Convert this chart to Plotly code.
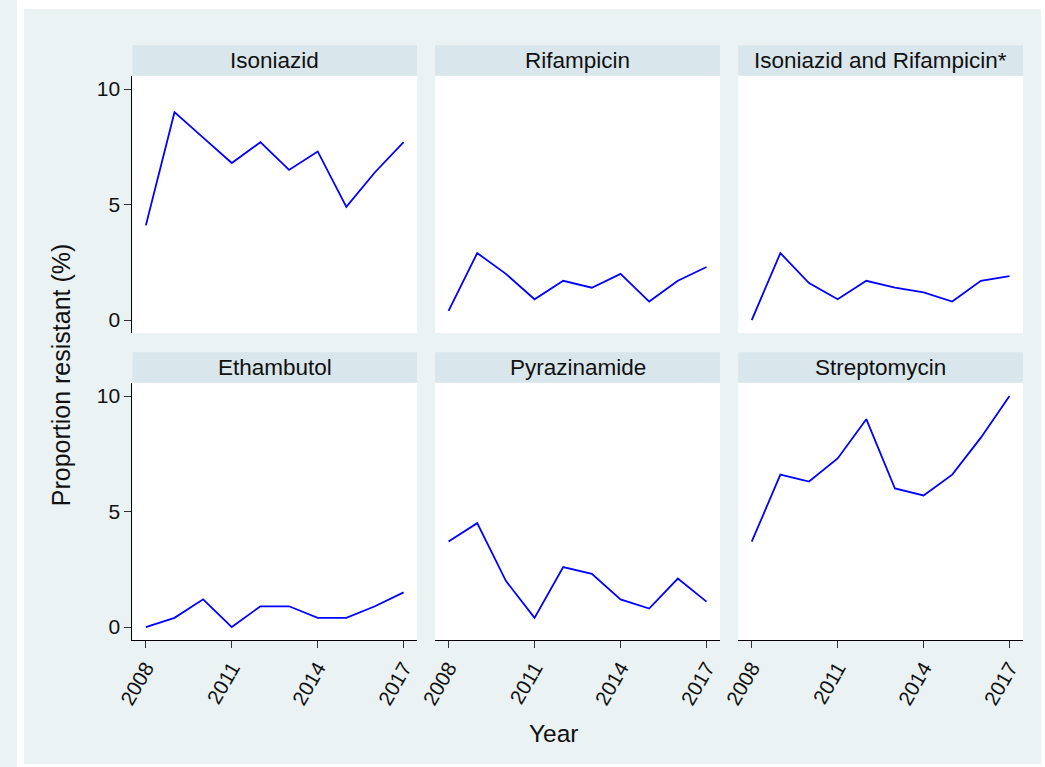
import plotly.graph_objects as go

years = [2008, 2009, 2010, 2011, 2012, 2013, 2014, 2015, 2016, 2017]
panel_titles = ["Isoniazid", "Rifampicin", "Isoniazid and Rifampicin*",
                "Ethambutol", "Pyrazinamide", "Streptomycin"]
isoniazid = [4.1, 9.0, 7.9, 6.8, 7.7, 6.5, 7.3, 4.9, 6.4, 7.7]
rifampicin = [0.4, 2.9, 2.0, 0.9, 1.7, 1.4, 2.0, 0.8, 1.7, 2.3]
inh_rif = [0.0, 2.9, 1.6, 0.9, 1.7, 1.4, 1.2, 0.8, 1.7, 1.9]
ethambutol = [0.0, 0.4, 1.2, 0.0, 0.9, 0.9, 0.4, 0.4, 0.9, 1.5]
pyrazinamide = [3.7, 4.5, 2.0, 0.4, 2.6, 2.3, 1.2, 0.8, 2.1, 1.1]
streptomycin = [3.7, 6.6, 6.3, 7.3, 9.0, 6.0, 5.7, 6.6, 8.2, 10.0]
series = [isoniazid, rifampicin, inh_rif, ethambutol, pyrazinamide, streptomycin]
x_ticks = [2008, 2011, 2014, 2017]
y_ticks = [0, 5, 10]

W, H = 1045, 767
OUTER = "#EAF2F3"
STRIP = "#D9E6EB"
FONT = "Liberation Sans, Arial, sans-serif"

col_x = [(117.3, 406.7), (425.0, 714.6), (733.2, 1022.6)]
row_y = [(75.7, 333.0), (382.7, 640.0)]   # plot area top/bottom in px
strip_h = 30.5

def px(x):
    return x / W

def py(y):
    return 1 - y / H

fig = go.Figure()
shapes = []
# white outer border around the light background
for (a, b, c_, d) in [(0, W, 0, 9), (0, W, 764, H), (0, 7, 0, H), (1041, W, 0, H)]:
    shapes.append(dict(type="rect", xref="paper", yref="paper", x0=px(a), x1=px(b),
                       y0=py(d), y1=py(c_), fillcolor="white", line=dict(width=0),
                       layer="below"))
annotations = []

for i, (title, vals) in enumerate(zip(panel_titles, series)):
    r, c = divmod(i, 3)
    n = i + 1
    xa = "xaxis" if n == 1 else f"xaxis{n}"
    ya = "yaxis" if n == 1 else f"yaxis{n}"
    xr = "x" if n == 1 else f"x{n}"
    yr = "y" if n == 1 else f"y{n}"
    x0, x1 = col_x[c]
    top, bot = row_y[r]
    fig.add_trace(go.Scatter(x=years, y=vals, mode="lines", xaxis=xr, yaxis=yr,
                             line=dict(color="#0000FF", width=1.8), showlegend=False))
    show_x = r == 1
    show_y = c == 0
    fig.layout[xa] = dict(domain=[px(x0), px(x1)], anchor=yr, range=[2007.53, 2017.47],
                          tickvals=x_ticks, showticklabels=show_x, showline=show_x,
                          linecolor="#000000", linewidth=1, ticks="outside" if show_x else "",
                          ticklen=7, tickcolor="#333333", tickangle=-60, showgrid=False,
                          zeroline=False, tickfont=dict(size=20.5, color="#111111", family=FONT))
    fig.layout[ya] = dict(domain=[py(bot), py(top)], anchor=xr, range=[-0.56, 10.58],
                          tickvals=y_ticks, showticklabels=show_y, showline=show_y,
                          linecolor="#000000", linewidth=1, ticks="outside" if show_y else "",
                          ticklen=7, tickcolor="#333333", showgrid=False, zeroline=False,
                          tickfont=dict(size=21, color="#111111", family=FONT))
    shapes.append(dict(type="rect", xref="paper", yref="paper", x0=px(x0), x1=px(x1),
                       y0=py(top), y1=py(top - strip_h), fillcolor=STRIP,
                       line=dict(width=0), layer="below"))
    annotations.append(dict(text=title, xref="paper", yref="paper",
                            x=px((x0 + x1) / 2), y=py(top - strip_h / 2),
                            showarrow=False, xanchor="center", yanchor="middle",
                            font=dict(size=22.5, color="#111111", family=FONT)))

annotations.append(dict(text="Proportion resistant (%)", xref="paper", yref="paper",
                        x=px(45), y=py(375), textangle=-90, showarrow=False,
                        xanchor="center", yanchor="middle",
                        font=dict(size=25, color="#111111", family=FONT)))
annotations.append(dict(text="Year", xref="paper", yref="paper",
                        x=px(546), y=py(733), showarrow=False,
                        xanchor="center", yanchor="middle",
                        font=dict(size=24.5, color="#111111", family=FONT)))

fig.update_layout(width=W, height=H, margin=dict(l=0, r=0, t=0, b=0),
                  paper_bgcolor=OUTER, plot_bgcolor="white",
                  shapes=shapes, annotations=annotations, font=dict(family=FONT))
fig.write_html("out.html", config={"displayModeBar": False},
               post_script="document.body.style.margin='0';document.body.style.overflow='hidden';")
